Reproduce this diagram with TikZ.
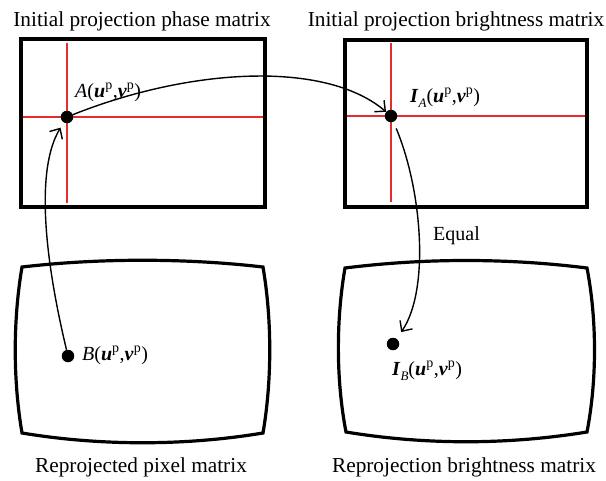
\documentclass[tikz,border=0pt]{standalone}
\usepackage{fontspec}
\setmainfont{Liberation Serif}
\usetikzlibrary{arrows.meta}
\definecolor{gridred}{RGB}{228,45,45}
\begin{document}
\begin{tikzpicture}[x=1pt,y=-1pt,
  frame/.style={line width=3.2pt,line join=miter},
  redline/.style={gridred,line width=1.3pt},
  dot/.style={circle,fill=black,inner sep=0pt,minimum size=12.5pt},
  conn/.style={line width=1.4pt,-{Straight Barb[length=8pt,width=15pt,line width=1.4pt]}},
  lbl/.style={inner sep=0pt,anchor=base west,font=\fontsize{20}{24}\selectfont},
  ttl/.style={inner sep=0pt,anchor=base,font=\fontsize{21.3}{25}\selectfont}]
\useasboundingbox (0,0) rectangle (606,480);
% titles
\node[ttl] (t1) at (142,26) {Initial projection phase matrix};
\node[ttl] (t2) at (456,26) {Initial projection brightness matrix};
\node[ttl] (t3) at (141,472) {Reprojected pixel matrix};
\node[ttl] (t4) at (464,472) {Reprojection brightness matrix};
% top frames
\draw[redline] (67,43) -- (67,203);
\draw[redline] (22,117) -- (263,117);
\draw[frame] (21,39) rectangle (265,207);
\draw[redline] (391,43) -- (391,202);
\draw[redline] (345,116) -- (587,116);
\draw[frame] (345,40) rectangle (587,207);
% bottom distorted frames
\draw[frame] (22,267) .. controls (100,258) and (185,258) .. (263,267)
  .. controls (272,320) and (272,380) .. (263,433)
  .. controls (185,446) and (100,446) .. (22,433)
  .. controls (13,380) and (13,320) .. (22,267) -- cycle;
\draw[frame] (345,268) .. controls (425,258) and (507,258) .. (587,268)
  .. controls (597,320) and (597,380) .. (587,432)
  .. controls (507,445) and (425,445) .. (346,432)
  .. controls (336,380) and (336,320) .. (345,268) -- cycle;
% dots
\node[dot] (A) at (67,117) {};
\node[dot] (IA) at (391,116) {};
\node[dot] (B) at (68,356) {};
\node[dot] (IB) at (393,344) {};
% labels
\node[lbl] (lA) at (75,97) {\textit{A}(\textbf{\textit{u}}\textsuperscript{p},\textbf{\textit{v}}\textsuperscript{p})};
\node[lbl] (lIA) at (410,102) {\textbf{\textit{I}}\raisebox{-0.25em}{\fontsize{13}{14}\selectfont\textit{A}}(\textbf{\textit{u}}\textsuperscript{p},\textbf{\textit{v}}\textsuperscript{p})};
\node[lbl] (lB) at (82,360) {\textit{B}(\textbf{\textit{u}}\textsuperscript{p},\textbf{\textit{v}}\textsuperscript{p})};
\node[lbl] (lIB) at (392,375) {\textbf{\textit{I}}\raisebox{-0.25em}{\fontsize{13}{14}\selectfont\textit{B}}(\textbf{\textit{u}}\textsuperscript{p},\textbf{\textit{v}}\textsuperscript{p})};
\node[lbl] (eq) at (433,240) {Equal};
% connectors
\draw[conn] (A) .. controls (190,68) and (325,60) .. (IA);
\draw[conn,shorten >=6pt] (B) .. controls (45,260) and (35,170) .. (A);
\draw[conn,shorten <=7pt,shorten >=8pt] (IA) .. controls (422,190) and (430,290) .. (IB);
\end{tikzpicture}
\end{document}
